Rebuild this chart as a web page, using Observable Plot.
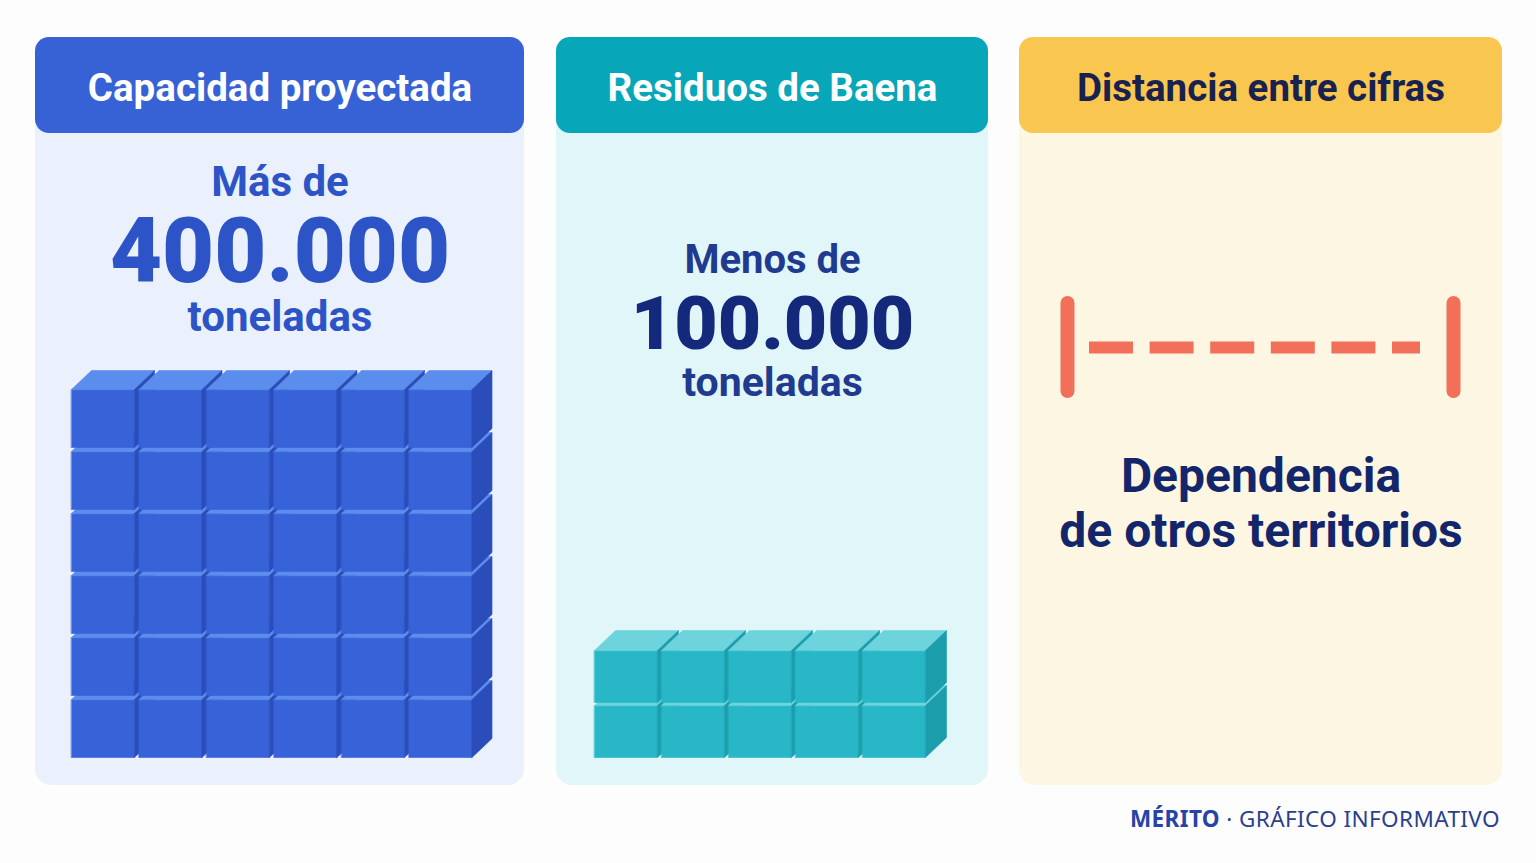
<!DOCTYPE html>
<html>
<head>
<meta charset="utf-8">
<script src="https://cdn.jsdelivr.net/npm/d3@7"></script>
<script src="https://cdn.jsdelivr.net/npm/@observablehq/plot@0.6"></script>
<style>
  html, body { margin: 0; padding: 0; background: #fdfdfe; }
  #chart svg { display: block; }
  #footer {
    width: 1536px; height: 38px; box-sizing: border-box; padding-right: 36px;
    text-align: right; line-height: 38px; font-family: "Noto Sans", Roboto, sans-serif;
    font-size: 22.5px; color: #2b3f8c; letter-spacing: 0.4px;
  }
  #footer b { color: #2643a6; font-weight: 700; }
</style>
</head>
<body>
<div id="chart"></div>
<div id="footer"></div>
<script>
// ---------- data ----------
const panelTitles = ["Capacidad proyectada", "Residuos de Baena", "Distancia entre cifras"];
const leadTexts = ["Más de", "Menos de"];
const tonnages = [400000, 100000];
const unitLabel = "toneladas";
const cubeCols = [6, 5];
const cubeRows = [6, 2];
const gapLines = ["Dependencia", "de otros territorios"];
const footerBrand = "MÉRITO";
const footerLabel = "GRÁFICO INFORMATIVO";

// ---------- layout & style (not data) ----------
const W = 1536, H = 800;
const FONT = "Roboto";
const panelBox = [{x1: 35, x2: 524}, {x1: 556, x2: 988}, {x1: 1019, x2: 1502}];
const boxTop = 37, headerBottom = 133, boxBottom = 785;
const headerFill = ["#3762d6", "#07a7b9", "#f9c64f"];
const bodyFill = ["#eaf0fc", "#e0f6f9", "#fdf6e2"];
const headerInk = ["#ffffff", "#ffffff", "#18214f"];
const leadInk = ["#2d54c6", "#1f3a8e"];
const valueInk = ["#2d54c6", "#14297b"];
const leadY = [182, 260], valueY = [253, 324], unitY = [317, 382];
const leadSize = [42, 40], valueSize = [90, 75], unitSize = [42, 41];
const cubeGeom = [
  {x0: 71, pitchX: 67.5, w: 63, bottomY: 757, h: 58, pitchY: 62, dx: 20, dy: 19,
   front: "#3862d8", top: "#5b8ded", side: "#2a4db9"},
  {x0: 594, pitchX: 67, w: 63, bottomY: 757, h: 52, pitchY: 55, dx: 21, dy: 20,
   front: "#27b7c6", top: "#6dd4de", side: "#1b9dab"}
];
const coral = "#f2705a";
const bracket = {xL: 1067, xR: 1453, y1: 303, y2: 391, yMid: 347, dashX1: 1089, dashX2: 1420};
const gapY = [476, 531];

const fmt = d3.formatLocale({decimal: ",", thousands: ".", grouping: [3], currency: ["", "€"]}).format(",");
const center = (i) => (panelBox[i].x1 + panelBox[i].x2) / 2;

// panels table
const panels = panelTitles.map((t, i) => ({
  title: t, x1: panelBox[i].x1, x2: panelBox[i].x2, cx: center(i),
  head: headerFill[i], body: bodyFill[i], ink: headerInk[i]
}));

// figure texts
const figures = tonnages.map((v, i) => ({
  i, lead: leadTexts[i], value: fmt(v), unit: unitLabel, cx: center(i)
}));

// cube polygons, built from the column/row counts
const polys = [];
cubeCols.forEach((nc, p) => {
  const g = cubeGeom[p];
  for (let r = 0; r < cubeRows[p]; r++) {          // bottom row first
    for (let c = 0; c < nc; c++) {                 // left to right
      const x = g.x0 + c * g.pitchX;
      const yb = g.bottomY - r * g.pitchY;         // front bottom
      const yt = yb - g.h;                         // front top
      const id = `${p}-${r}-${c}`;
      const faces = [
        ["f", g.front, [[x, yt], [x + g.w, yt], [x + g.w, yb], [x, yb]]],
        ["t", g.top, [[x, yt], [x + g.dx, yt - g.dy], [x + g.w + g.dx, yt - g.dy], [x + g.w, yt]]],
        ["s", g.side, [[x + g.w, yt], [x + g.w + g.dx, yt - g.dy], [x + g.w + g.dx, yb - g.dy], [x + g.w, yb]]]
      ];
      for (const [k, col, pts] of faces)
        for (const [px, py] of pts) polys.push({id: id + k, color: col, x: px, y: py});
    }
  }
});

const chart = Plot.plot({
  width: W, height: H,
  margin: 0,
  x: {domain: [0, W], range: [0, W], axis: null},
  y: {domain: [0, H], range: [0, H], axis: null},
  color: {type: "identity"},
  style: {background: "transparent", fontFamily: FONT},
  marks: [
    // panel bodies
    Plot.rect(panels, {x1: "x1", x2: "x2", y1: () => boxTop, y2: () => boxBottom, fill: "body", rx: 16}),
    // headers
    Plot.rect(panels, {x1: "x1", x2: "x2", y1: () => boxTop, y2: () => headerBottom, fill: "head", rx: 14}),
    Plot.text(panels, {x: "cx", y: () => 88, text: "title", fill: "ink", fontSize: 38.5, fontWeight: 700, fontFamily: FONT}),
    // lead / value / unit texts
    Plot.text(figures, {x: "cx", y: d => leadY[d.i], text: "lead", fill: d => leadInk[d.i],
      fontSize: d => leadSize[d.i], fontWeight: 700, fontFamily: FONT}),
    Plot.text(figures, {x: "cx", y: d => valueY[d.i], text: "value", fill: d => valueInk[d.i],
      fontSize: d => valueSize[d.i], fontWeight: 900, fontFamily: FONT}),
    Plot.text(figures, {x: "cx", y: d => unitY[d.i], text: "unit", fill: d => leadInk[d.i],
      fontSize: d => unitSize[d.i], fontWeight: 700, fontFamily: FONT}),
    // cubes
    Plot.line(polys, {x: "x", y: "y", z: "id", fill: "color", stroke: "color", strokeWidth: 0.6, curve: "linear-closed"}),
    // bracket showing the gap between the figures
    Plot.ruleX([bracket.xL, bracket.xR], {x: d => d, y1: () => bracket.y1, y2: () => bracket.y2,
      stroke: coral, strokeWidth: 14, strokeLinecap: "round"}),
    Plot.ruleY([bracket.yMid], {y: d => d, x1: () => bracket.dashX1, x2: () => bracket.dashX2,
      stroke: coral, strokeWidth: 12, strokeDasharray: "44,16.6", strokeLinecap: "butt"}),
    Plot.text(gapLines, {x: () => center(2), y: (d, i) => gapY[i], text: d => d, fill: "#14266b",
      fontSize: 48, fontWeight: 700, fontFamily: FONT})
  ]
});
document.getElementById("chart").append(chart);

const footer = document.getElementById("footer");
const b = document.createElement("b"); b.textContent = footerBrand;
footer.append(b, document.createTextNode(" · " + footerLabel));
</script>
</body>
</html>
